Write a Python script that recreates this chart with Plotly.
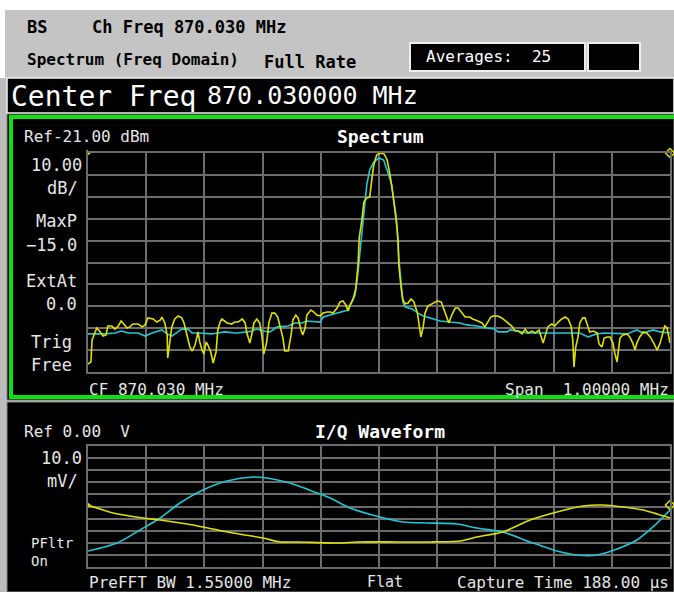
import plotly.graph_objects as go

W, H = 674, 592

# ---------------- data ----------------
# Spectrum: offset from centre frequency (kHz) and level (dBm)
spec_cur_khz = [-500, -495, -493, -488, -485, -479, -474, -469, -466, -459, -454, -449, -443, -440,
                -433, -428, -423, -414, -407, -402, -397, -388, -382, -376, -373, -368, -364, -363,
                -359, -356, -351, -345, -339, -335, -330, -325, -321, -316, -311, -308, -304, -301,
                -297, -294, -289, -285, -280, -277, -273, -270, -261, -253, -248, -242, -235, -230,
                -227, -222, -218, -215, -210, -205, -201, -198, -193, -189, -184, -179, -174, -170,
                -165, -162, -156, -151, -148, -143, -139, -134, -131, -127, -124, -117, -112, -107,
                -101, -96, -89, -84, -79, -72, -67, -62, -57, -53, -50, -45, -40, -36, -34, -29,
                -26, -21, -16, -12, -9, -4, 2, 9, 14, 19, 24, 29, 33, 34, 38, 41, 45, 50, 55, 60,
                66, 69, 72, 76, 79, 84, 93, 100, 107, 112, 117, 120, 125, 131, 136, 143, 148, 156,
                161, 170, 177, 182, 186, 192, 196, 204, 211, 216, 222, 228, 234, 239, 246, 251,
                256, 263, 268, 275, 282, 285, 290, 297, 302, 308, 314, 320, 325, 330, 333, 335,
                338, 342, 345, 350, 354, 357, 362, 368, 375, 378, 383, 387, 392, 397, 402, 405,
                409, 411, 414, 419, 426, 431, 436, 440, 443, 448, 454, 460, 466, 472, 478, 483,
                488, 491, 495, 498, 500]
spec_cur_dbm = [-117.4, -116.4, -106.4, -102.7, -100.9, -102.7, -104.6, -104.1, -100.0, -100.0,
                -101.4, -100.4, -97.7, -98.6, -100.9, -100.4, -99.1, -99.1, -100.4, -99.5, -96.3,
                -96.8, -98.2, -97.3, -95.9, -98.6, -104.1, -114.6, -105.0, -100.4, -96.8, -95.4,
                -96.3, -98.6, -104.1, -109.6, -111.4, -108.7, -102.7, -107.3, -111.0, -112.8,
                -107.3, -108.7, -111.9, -116.9, -111.9, -101.8, -98.2, -96.8, -98.6, -99.1, -98.2,
                -98.2, -96.8, -98.6, -103.2, -107.8, -103.2, -98.6, -96.8, -98.6, -105.0, -112.8,
                -107.3, -98.2, -94.1, -94.1, -95.9, -100.4, -105.5, -111.4, -111.4, -104.1, -97.3,
                -95.0, -96.3, -101.8, -104.1, -100.9, -95.0, -92.7, -93.6, -95.0, -95.4, -94.1,
                -93.6, -93.6, -94.1, -91.8, -89.0, -88.6, -90.4, -93.1, -90.4, -88.0, -83.0, -72.1,
                -59.8, -50.7, -43.4, -41.5, -41.1, -32.4, -26.5, -21.9, -21.0, -21.5, -24.2, -31.0,
                -40.2, -49.3, -61.6, -72.1, -82.6, -88.0, -89.9, -89.5, -87.7, -89.0, -94.1, -98.6,
                -105.0, -100.4, -94.1, -90.9, -89.5, -88.6, -89.0, -92.7, -96.3, -98.6, -95.0,
                -91.8, -91.8, -94.1, -95.9, -95.9, -96.8, -97.7, -98.6, -100.4, -98.6, -95.9,
                -95.4, -95.4, -96.3, -97.3, -98.6, -100.0, -102.3, -102.3, -103.6, -101.4, -103.2,
                -102.3, -103.2, -101.8, -107.8, -105.0, -100.4, -99.1, -100.0, -98.2, -96.8, -95.9,
                -96.8, -100.0, -106.4, -118.7, -109.6, -105.0, -98.6, -96.3, -96.3, -98.6, -102.7,
                -102.3, -103.2, -108.2, -109.6, -105.5, -105.0, -105.0, -107.8, -112.3, -116.4,
                -111.9, -105.5, -104.1, -103.6, -105.0, -107.8, -111.0, -107.8, -105.0, -102.7,
                -103.2, -105.0, -107.8, -111.0, -107.8, -103.2, -100.0, -100.9, -106.4, -107.8]

spec_avg_khz = [-500, -471, -454, -442, -431, -414, -402, -390, -373, -364, -356, -339, -328, -321,
                -311, -287, -277, -265, -247, -244, -227, -218, -210, -199, -187, -175, -156, -144,
                -132, -124, -101, -96, -84, -72, -62, -53, -41, -36, -31, -26, -21, -16, -9, 0, 8,
                15, 22, 26, 31, 34, 38, 41, 45, 57, 67, 76, 88, 105, 122, 139, 151, 168, 185, 199,
                204, 220, 225, 239, 254, 271, 290, 311, 328, 345, 359, 374, 388, 409, 426, 443, 454,
                471, 483, 500]
spec_avg_dbm = [-103.6, -103.6, -103.2, -102.3, -103.2, -103.2, -104.6, -103.2, -101.8, -103.6,
                -104.6, -101.4, -101.4, -103.2, -103.2, -103.6, -103.2, -102.7, -103.2, -103.2,
                -102.7, -102.3, -101.4, -102.3, -102.7, -100.4, -100.0, -98.6, -98.6, -97.7, -98.2,
                -95.9, -95.0, -94.1, -93.6, -92.7, -85.8, -75.3, -61.6, -47.9, -35.6, -28.8, -25.1,
                -23.3, -24.2, -29.7, -35.6, -44.7, -55.2, -69.0, -81.3, -89.0, -91.3, -92.2, -94.1,
                -95.4, -96.3, -97.7, -98.2, -98.6, -99.5, -100.0, -100.9, -101.4, -102.7, -102.7,
                -101.8, -102.3, -103.2, -103.2, -103.2, -103.2, -103.2, -103.2, -105.0, -103.6,
                -103.2, -103.6, -103.6, -101.8, -103.2, -101.8, -102.7, -103.2]

# I/Q waveform: time (us) and amplitude (mV)
iq_i_us = [0, 8.1, 17.8, 23.3, 32.0, 37.1, 46.8, 56.5, 62.0, 67.5, 81.4, 86.9, 99.8, 110.5, 120.2,
           125.6, 134.0, 142.8, 151.5, 159.9, 166.3, 172.8, 179.3, 188.0]
iq_i_mv = [1.2, -5.4, -9.5, -11.2, -14.5, -16.9, -21.9, -26.0, -29.3, -29.3, -30.2, -29.3, -29.3,
           -29.3, -28.5, -25.2, -21.1, -11.2, -4.5, 0.4, 1.2, -0.4, -2.9, -9.5]
iq_q_us = [0, 9.4, 16.8, 23.3, 29.7, 37.1, 44.9, 53.3, 57.8, 65.2, 74.0, 78.2, 84.6, 94.3, 101.7,
           109.5, 119.2, 125.6, 134.0, 142.8, 151.5, 157.9, 164.4, 170.9, 177.3, 182.5, 188.0]
iq_q_mv = [-36.8, -30.2, -19.4, -9.5, 2.9, 13.6, 21.1, 24.4, 23.6, 19.4, 11.2, 7.0, -1.2, -8.7,
           -12.8, -13.6, -14.5, -17.8, -21.1, -29.3, -36.8, -40.1, -40.1, -35.1, -27.7, -16.9, -2.9]

REF_DBM = -21.0
DB_PER_DIV = 10.0
SPAN_KHZ = 1000.0
CAPTURE_US = 188.0
MV_PER_DIV = 10.0

YEL = "#e0e000"
CYN = "#1cc8d6"
GRID = "#6c6c6c"
TXT = "#e6e6e6"
MONO = "DejaVu Sans Mono"


def px(x):
    return x / W


def py(y):
    return 1 - y / H


fig = go.Figure()

fig.add_trace(go.Scatter(x=spec_avg_khz, y=spec_avg_dbm, mode="lines",
                         line=dict(color=CYN, width=1.6), xaxis="x", yaxis="y"))
fig.add_trace(go.Scatter(x=spec_cur_khz, y=spec_cur_dbm, mode="lines",
                         line=dict(color=YEL, width=1.6), xaxis="x", yaxis="y"))
fig.add_trace(go.Scatter(x=iq_q_us, y=iq_q_mv, mode="lines", line_shape="spline",
                         line=dict(color=CYN, width=1.6, smoothing=0.8), xaxis="x2", yaxis="y2"))
fig.add_trace(go.Scatter(x=iq_i_us, y=iq_i_mv, mode="lines", line_shape="spline",
                         line=dict(color=YEL, width=1.6, smoothing=0.6), xaxis="x2", yaxis="y2"))

# reference markers
fig.add_trace(go.Scatter(x=[spec_cur_khz[0]], y=[REF_DBM], mode="markers", cliponaxis=False,
                         marker=dict(symbol="triangle-right", size=6, color=YEL),
                         xaxis="x", yaxis="y"))
fig.add_trace(go.Scatter(x=[spec_cur_khz[-1]], y=[REF_DBM], mode="markers", cliponaxis=False,
                         marker=dict(symbol="diamond-open", size=7, color=YEL,
                                     line=dict(width=1.5, color=YEL)),
                         xaxis="x", yaxis="y"))
fig.add_trace(go.Scatter(x=[iq_i_us[0]], y=[iq_i_mv[0]], mode="markers", cliponaxis=False,
                         marker=dict(symbol="triangle-right", size=6, color=YEL),
                         xaxis="x2", yaxis="y2"))
fig.add_trace(go.Scatter(x=[iq_i_us[-1]], y=[iq_i_mv[0]], mode="markers", cliponaxis=False,
                         marker=dict(symbol="diamond-open", size=7, color=YEL,
                                     line=dict(width=1.5, color=YEL)),
                         xaxis="x2", yaxis="y2"))

ax_common = dict(showgrid=True, gridcolor=GRID, gridwidth=2, zeroline=False,
                 showticklabels=False, ticks="", showline=True, mirror=True,
                 linecolor=GRID, linewidth=2, fixedrange=True)

fig.update_layout(
    width=W, height=H, margin=dict(l=0, r=0, t=0, b=0),
    paper_bgcolor="white", plot_bgcolor="black", showlegend=False,
    xaxis=dict(domain=[px(88), px(670)], range=[-SPAN_KHZ / 2, SPAN_KHZ / 2],
               tick0=-SPAN_KHZ / 2, dtick=SPAN_KHZ / 10, anchor="y", **ax_common),
    yaxis=dict(domain=[py(372), py(153)], range=[REF_DBM - 10 * DB_PER_DIV, REF_DBM],
               tick0=REF_DBM, dtick=DB_PER_DIV, anchor="x", **ax_common),
    xaxis2=dict(domain=[px(88), px(670)], range=[0, CAPTURE_US], tick0=0,
                dtick=CAPTURE_US / 10, anchor="y2", **ax_common),
    yaxis2=dict(domain=[py(567), py(446)], range=[-5 * MV_PER_DIV, 5 * MV_PER_DIV],
                tick0=0, dtick=MV_PER_DIV, anchor="x2", **ax_common),
)

shapes = []


def rect(x0, y0, x1, y1, fill=None, line=None, lw=0):
    shapes.append(dict(type="rect", xref="paper", yref="paper", layer="below",
                       x0=px(x0), x1=px(x1), y0=py(y1), y1=py(y0),
                       fillcolor=fill if fill else "rgba(0,0,0,0)",
                       line=dict(color=line if line else "rgba(0,0,0,0)", width=lw)))


rect(5, 10, 674, 78, fill="#c4c4c4")
rect(0, 78, 674, 592, fill="#bdbdbd")
rect(7, 78, 674, 113, fill="black", line="#f0f0f0", lw=1.5)
rect(7, 114, 674, 400, fill="black", line="#8a8a8a", lw=1)
rect(11, 117, 680, 397, line="#10e010", lw=4)
rect(7, 402, 674, 592, fill="black", line="#8a8a8a", lw=1)
rect(410, 43, 585, 71, fill="black", line="#eeeeee", lw=2)
rect(588, 43, 640, 71, fill="black", line="#eeeeee", lw=2)

fig.update_layout(shapes=shapes)

ann = []


def txt(x, y, s, size=17, color=TXT, anchor="left", bold=False):
    ann.append(dict(xref="paper", yref="paper", x=px(x), y=py(y), text=f"<b>{s}</b>" if bold else s,
                    showarrow=False, xanchor=anchor, yanchor="middle",
                    font=dict(family=MONO, size=size, color=color)))


# header
txt(25, 27, "BS", 17, "black", bold=True)
txt(90, 27, "Ch Freq 870.030 MHz", 17, "black", bold=True)
txt(25, 60, "Spectrum (Freq Domain)", 16, "black", bold=True)
txt(262, 62, "Full Rate", 17, "black", bold=True)
txt(424, 57, "Averages:  25", 16, "white")
txt(9, 96, "Center Freq", 28, "white")
txt(205, 95, "870.030000 MHz", 25, "white")

# spectrum panel
txt(22, 137, "Ref-21.00 dBm", 16)
txt(380, 137, "Spectrum", 18, "white", anchor="center", bold=True)
txt(84, 165, "10.00", 17, anchor="right")
txt(80, 188, "dB/", 17, anchor="right")
txt(79, 221, "MaxP", 17, anchor="right")
txt(79, 245, "\u221215.0", 17, anchor="right")
txt(79, 281, "ExtAt", 17, anchor="right")
txt(79, 304, "0.0", 17, anchor="right")
txt(29, 342, "Trig", 17)
txt(29, 365, "Free", 17)
txt(87, 389, "CF 870.030 MHz", 16)
txt(671, 389, "Span  1.00000 MHz", 16, anchor="right")

# I/Q panel
txt(22, 431, "Ref 0.00  V", 16)
txt(380, 431, "I/Q Waveform", 18, "white", anchor="center", bold=True)
txt(84, 458, "10.0", 17, anchor="right")
txt(80, 481, "mV/", 17, anchor="right")
txt(29, 543, "PFltr", 14)
txt(29, 561, "On", 14)
txt(87, 582, "PreFFT BW 1.55000 MHz", 16)
txt(385, 582, "Flat", 15, anchor="center")
txt(671, 582, "Capture Time 188.00 \u03bcs", 16, anchor="right")

fig.update_layout(annotations=ann)

fig.write_html("out.html", config={"displayModeBar": False},
               post_script="document.body.style.margin='0';document.body.style.padding='0';"
                           "document.body.style.overflow='hidden';")
